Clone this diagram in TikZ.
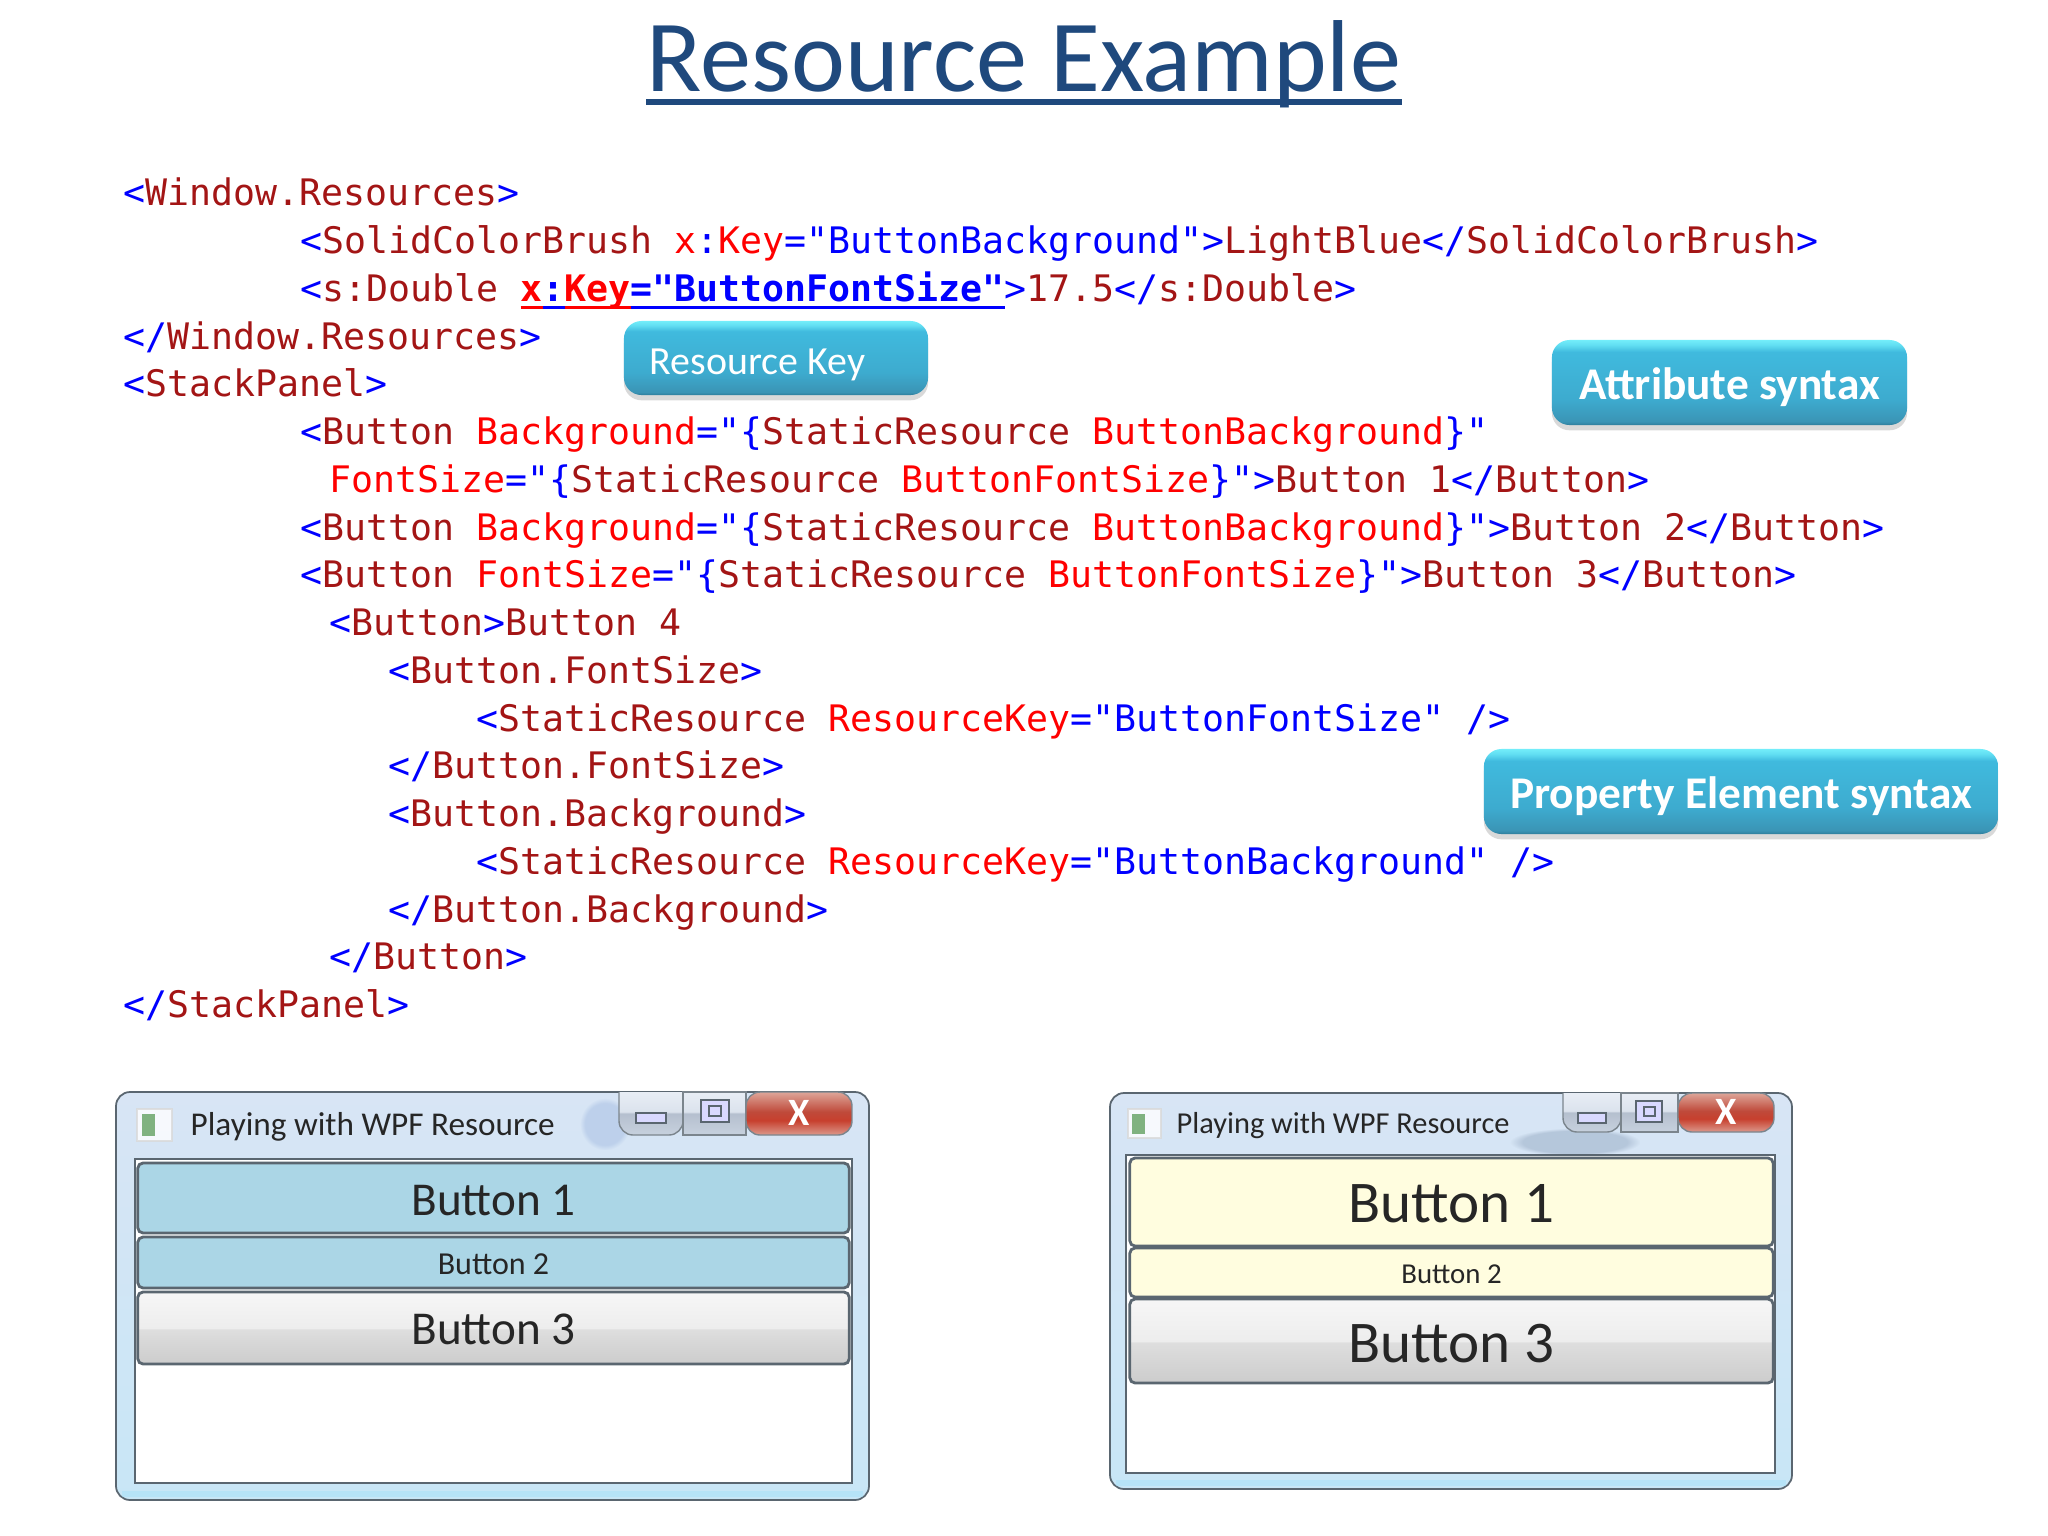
\documentclass[tikz,border=0pt]{standalone}
\usepackage{fontspec}
\setmainfont{Carlito}
\setmonofont{DejaVu Sans Mono}
\usetikzlibrary{positioning,calc,shadows,fadings}
\definecolor{titleblue}{HTML}{1F497D}
\definecolor{codeblue}{HTML}{0000FF}
\definecolor{codename}{HTML}{A31515}
\definecolor{codered}{HTML}{FF0000}
\definecolor{frameline}{HTML}{5A6670}
\definecolor{glass}{HTML}{D8E5F5}
\definecolor{glassb}{HTML}{C8E6F6}
\definecolor{lightblue}{HTML}{ABD6E6}
\definecolor{paleyellow}{HTML}{FFFDDF}
\definecolor{smudgeblue}{HTML}{9FB8E0}
\definecolor{smudgegrey}{HTML}{8FA3BC}
\pgfdeclareverticalshading{gloss}{100bp}{rgb(0bp)=(.18,.49,.61); rgb(25bp)=(.18,.49,.61);
	rgb(27bp)=(.23,.58,.71); rgb(40bp)=(.24,.67,.81); rgb(68bp)=(.25,.73,.87);
	rgb(72bp)=(.38,.87,.95); rgb(75bp)=(.45,.93,.98); rgb(100bp)=(.45,.93,.98)}
\pgfdeclareverticalshading{vistabtn}{100bp}{rgb(0bp)=(.80,.80,.80); rgb(25bp)=(.80,.80,.80);
	rgb(49bp)=(.87,.87,.87); rgb(50bp)=(.93,.93,.93); rgb(75bp)=(.965,.965,.965); rgb(100bp)=(.965,.965,.965)}
\pgfdeclareverticalshading{closebtn}{100bp}{rgb(0bp)=(.86,.60,.55); rgb(25bp)=(.86,.60,.55);
	rgb(42bp)=(.78,.25,.18); rgb(52bp)=(.75,.29,.23); rgb(75bp)=(.87,.65,.60); rgb(100bp)=(.87,.65,.60)}
\pgfdeclareverticalshading{ctrlbtn}{100bp}{rgb(0bp)=(.78,.82,.87); rgb(25bp)=(.78,.82,.87);
	rgb(50bp)=(.71,.75,.81); rgb(52bp)=(.86,.89,.93); rgb(75bp)=(.91,.93,.96); rgb(100bp)=(.91,.93,.96)}
\tikzset{
	code/.style={anchor=base west, inner sep=0, font=\ttfamily\fontsize{10.39}{12}\selectfont},
	callout/.style={shading=gloss, rounded corners=5pt, inner sep=0, outer sep=0, text=white, text depth=0pt,
		drop shadow={shadow xshift=0pt, shadow yshift=-1.5pt, opacity=0.3}},
	winbody/.style={draw=frameline, line width=0.5pt, top color=glass, bottom color=glassb, rounded corners=4pt},
	winframe/.style={draw=frameline, line width=0.6pt, fill=white},
	winbtn/.style={draw=frameline, line width=0.8pt, rounded corners=1.5pt, inner sep=0, outer sep=0, text=black!85},
	ctrl/.style={draw=frameline!80, line width=0.4pt, shading=ctrlbtn},
	wintitle/.style={anchor=base west, inner sep=0, text=black!85, font=\fontsize{9.45}{11}\selectfont},
	winicon/.style={draw=black!15, fill=white, opacity=0.8},
	smudge/.style={path fading=circle with fuzzy edge 20 percent, fill opacity=0.45},
}
\newcommand{\ctag}[1]{\textcolor{codeblue}{#1}}
\newcommand{\cname}[1]{\textcolor{codename}{#1}}
\newcommand{\cattr}[1]{\textcolor{codered}{#1}}
\newcommand{\culine}[1]{\leavevmode\setbox0\hbox{#1}\rlap{\rule[-2.3pt]{\wd0}{0.9pt}}\box0}

\begin{document}
\begin{tikzpicture}[x=0.01cm, y=-0.01cm]
	\useasboundingbox (0,0) rectangle (2048,1536);

	\node [anchor=base, inner sep=0, text=titleblue, font=\fontsize{29.06}{32}\selectfont] (title) at (1024,91) {Resource Example};
	\draw [titleblue, line width=1.5pt] ($(title.base west)+(0,11)$) -- ($(title.base east)+(0,11)$);

	\node [code] (l1) at (123,205.5) {\ctag{<}\cname{Window.Resources}\ctag{>}};
	\node [code] (l2) at (300,253.5) {\ctag{<}\cname{SolidColorBrush} \cattr{x}\ctag{:}\cattr{Key}\ctag{="ButtonBackground">}\cname{LightBlue}\ctag{</}\cname{SolidColorBrush}\ctag{>}};
	\node [code] (l3) at (300,301.25) {\ctag{<}\cname{s:Double} \textbf{\textcolor{codered}{\culine{x}}\textcolor{codeblue}{\culine{:}}\textcolor{codered}{\culine{Key}}\textcolor{codeblue}{\culine{="ButtonFontSize"}}}\ctag{>}\cname{17.5}\ctag{</}\cname{s:Double}\ctag{>}};
	\node [code] (l4) at (123,349) {\ctag{</}\cname{Window.Resources}\ctag{>}};
	\node [code] (l5) at (123,396.75) {\ctag{<}\cname{StackPanel}\ctag{>}};
	\node [code] (l6) at (300,444.5) {\ctag{<}\cname{Button} \cattr{Background}\ctag{="\{}\cname{StaticResource} \cattr{ButtonBackground}\ctag{\}"}};
	\node [code] (l7) at (329,492.25) {\cattr{FontSize}\ctag{="\{}\cname{StaticResource} \cattr{ButtonFontSize}\ctag{\}">}\cname{Button 1}\ctag{</}\cname{Button}\ctag{>}};
	\node [code] (l8) at (300,540) {\ctag{<}\cname{Button} \cattr{Background}\ctag{="\{}\cname{StaticResource} \cattr{ButtonBackground}\ctag{\}">}\cname{Button 2}\ctag{</}\cname{Button}\ctag{>}};
	\node [code] (l9) at (300,587.75) {\ctag{<}\cname{Button} \cattr{FontSize}\ctag{="\{}\cname{StaticResource} \cattr{ButtonFontSize}\ctag{\}">}\cname{Button 3}\ctag{</}\cname{Button}\ctag{>}};
	\node [code] (l10) at (329,635.5) {\ctag{<}\cname{Button}\ctag{>}\cname{Button 4}};
	\node [code] (l11) at (388,683.25) {\ctag{<}\cname{Button.FontSize}\ctag{>}};
	\node [code] (l12) at (476,731) {\ctag{<}\cname{StaticResource} \cattr{ResourceKey}\ctag{="ButtonFontSize" />}};
	\node [code] (l13) at (388,778.75) {\ctag{</}\cname{Button.FontSize}\ctag{>}};
	\node [code] (l14) at (388,826.5) {\ctag{<}\cname{Button.Background}\ctag{>}};
	\node [code] (l15) at (476,874.25) {\ctag{<}\cname{StaticResource} \cattr{ResourceKey}\ctag{="ButtonBackground" />}};
	\node [code] (l16) at (388,922) {\ctag{</}\cname{Button.Background}\ctag{>}};
	\node [code] (l17) at (329,969.75) {\ctag{</}\cname{Button}\ctag{>}};
	\node [code] (l18) at (123,1017.5) {\ctag{</}\cname{StackPanel}\ctag{>}};

	\node [callout, minimum width=3.04cm, minimum height=0.74cm, text height=9.5pt, font=\fontsize{11.35}{13}\selectfont] (reskey) at (776,358) {\hspace*{-0.37cm}Resource Key};
	\node [callout, minimum width=3.55cm, minimum height=0.85cm, text height=9.9pt, font=\bfseries\fontsize{12.9}{15}\selectfont] (attr) at (1729.5,382.5) {Attribute syntax};
	\node [callout, minimum width=5.14cm, minimum height=0.85cm, text height=9.9pt, font=\bfseries\fontsize{12.9}{15}\selectfont] (prop) at (1741,791.5) {Property Element syntax};

	% left window
	\draw [winbody] (116,1092) rectangle (869,1500);
	\fill [smudgeblue, smudge] (580,1098) rectangle (630,1150);
	\fill [cyan!35, opacity=0.5] (122,1491) rectangle (863,1497);
	\draw [winframe] (135,1159) rectangle (852,1483);
	\node [winbtn, fill=lightblue, minimum width=7.11cm, minimum height=0.70cm, text height=10.2pt, font=\fontsize{13.4}{15}\selectfont] (la) at (493.5,1198) {Button 1};
	\node [winbtn, fill=lightblue, minimum width=7.11cm, minimum height=0.51cm, text height=6.7pt, font=\fontsize{9.1}{11}\selectfont] (lb) at (493.5,1262.5) {Button 2};
	\node [winbtn, shading=vistabtn, minimum width=7.11cm, minimum height=0.72cm, text height=9.5pt, font=\fontsize{13.4}{15}\selectfont] (lc) at (493.5,1328) {Button 3};
	\draw [winicon] (137,1109) rectangle (172,1141);
	\fill [black!60!green!50!white] (142,1114) rectangle (155,1136);
	\node [wintitle] (lt) at (190,1135) {Playing with WPF Resource};
	\draw [ctrl, rounded corners=4pt] (619,1092) -- (619,1135) -- (683,1135) -- (683,1092);
	\draw [ctrl] (683,1092) rectangle (746,1135);
	\draw [draw=frameline!80, line width=0.4pt, shading=closebtn, rounded corners=4pt] (746,1092) -- (746,1135) -- (852,1135) -- (852,1092) -- cycle;
	\draw [frameline, fill=white!85!blue, line width=0.8pt] (636,1113) rectangle (666,1123);
	\draw [frameline, fill=white!85!blue, line width=0.8pt] (701,1100) rectangle (729,1122);
	\draw [frameline, line width=0.8pt] (709,1106) rectangle (721,1116);
	\node [inner sep=0, text=white, font=\bfseries\fontsize{11}{12}\selectfont] (lx) at (799,1113) {X};

	% right window
	\draw [winbody] (1110,1093) rectangle (1792,1489);
	\fill [smudgegrey, smudge] (1510,1128) rectangle (1640,1156);
	\fill [cyan!35, opacity=0.5] (1116,1480) rectangle (1786,1486);
	\draw [winframe] (1126,1155) rectangle (1775,1473);
	\node [winbtn, fill=paleyellow, minimum width=6.43cm, minimum height=0.88cm, text height=11.6pt, font=\fontsize{16.8}{19}\selectfont] (ra) at (1451.5,1202) {Button 1};
	\node [winbtn, fill=paleyellow, minimum width=6.43cm, minimum height=0.49cm, text height=6.1pt, font=\fontsize{8.2}{10}\selectfont] (rb) at (1451.5,1272.5) {Button 2};
	\node [winbtn, shading=vistabtn, minimum width=6.43cm, minimum height=0.84cm, text height=12.6pt, font=\fontsize{16.8}{19}\selectfont] (rc) at (1451.5,1341) {Button 3};
	\draw [winicon] (1128,1109) rectangle (1161,1138);
	\fill [black!60!green!50!white] (1132,1114) rectangle (1145,1134);
	\node [wintitle, font=\fontsize{8.64}{10}\selectfont] (rt) at (1176,1133) {Playing with WPF Resource};
	\draw [ctrl, rounded corners=4pt] (1563,1093) -- (1563,1132) -- (1621,1132) -- (1621,1093);
	\draw [ctrl] (1621,1093) rectangle (1678,1132);
	\draw [draw=frameline!80, line width=0.4pt, shading=closebtn, rounded corners=4pt] (1678,1093) -- (1678,1132) -- (1774,1132) -- (1774,1093) -- cycle;
	\draw [frameline, fill=white!85!blue, line width=0.8pt] (1578,1113) rectangle (1606,1123);
	\draw [frameline, fill=white!85!blue, line width=0.8pt] (1636,1101) rectangle (1662,1122);
	\draw [frameline, line width=0.8pt] (1644,1107) rectangle (1655,1116);
	\node [inner sep=0, text=white, font=\bfseries\fontsize{11}{12}\selectfont] (rx) at (1726,1112) {X};
\end{tikzpicture}
\end{document}
